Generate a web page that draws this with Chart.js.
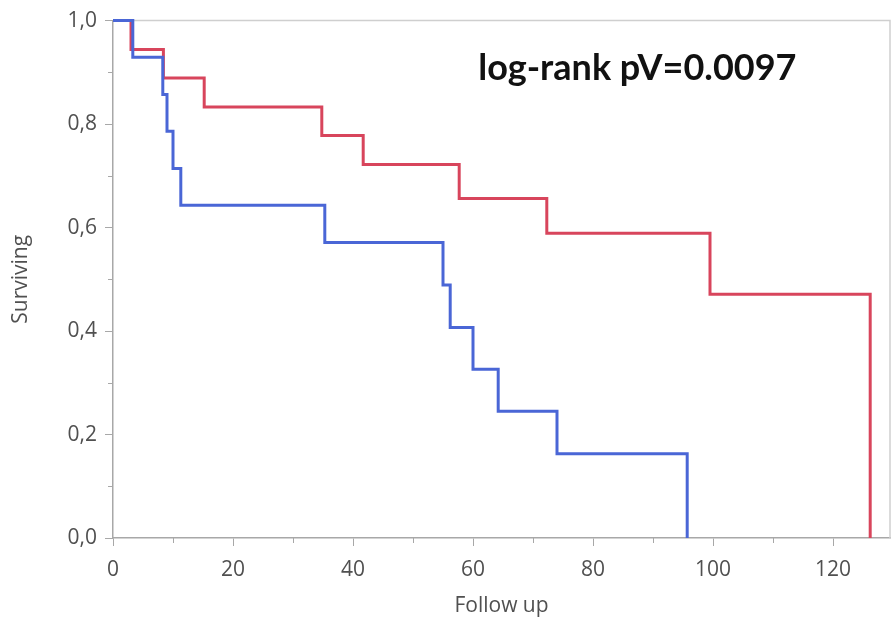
<!DOCTYPE html>
<html>
<head>
<meta charset="utf-8">
<script src="https://cdn.jsdelivr.net/npm/chart.js@4"></script>
<style>
    html, body { margin: 0; padding: 0; background: #ffffff; }
    #wrap { width: 892px; height: 624px; }
</style>
</head>
<body>
<div id="wrap"><canvas id="kmChart" width="892" height="624"></canvas></div>
<script>
// Kaplan-Meier steps
const redTimes = [0, 3.0, 8.4, 15.2, 34.8, 41.7, 57.7, 72.3, 99.5, 126.2];
const redSurv = [1.0, 0.944, 0.889, 0.833, 0.778, 0.722, 0.656, 0.589, 0.471, 0.0];
const blueTimes = [0, 3.3, 8.3, 9.0, 10.0, 11.3, 35.3, 55.0, 56.2, 60.0, 64.2, 74.0, 95.7];
const blueSurv = [1.0, 0.929, 0.857, 0.786, 0.714, 0.643, 0.571, 0.489, 0.407, 0.326, 0.245, 0.163, 0.0];

const xTicks = [0, 20, 40, 60, 80, 100, 120];
const xMinorTicks = [10, 30, 50, 70, 90, 110];
const yTicks = [0, 0.2, 0.4, 0.6, 0.8, 1.0];
const yMinorTicks = [0.1, 0.3, 0.5, 0.7, 0.9];
const pValueText = 'log-rank pV=0.0097';

const toPoints = (xs, ys) => xs.map((x, i) => ({ x: x, y: ys[i] }));

const tickFont = { family: '"Open Sans", "Noto Sans", sans-serif', size: 21 };
const axisGray = '#a8a8a8';

// frame, minor ticks and the p-value note
const extrasPlugin = {
    id: 'extras',
    beforeDatasetsDraw(chart) {
        const ctx = chart.ctx;
        const area = chart.chartArea;
        ctx.save();
        ctx.strokeStyle = '#cfcfcf';
        ctx.lineWidth = 1.5;
        ctx.beginPath();
        ctx.moveTo(area.left, area.top);
        ctx.lineTo(area.right, area.top);
        ctx.lineTo(area.right, area.bottom);
        ctx.stroke();
        ctx.restore();
    },
    afterDraw(chart) {
        const ctx = chart.ctx;
        const area = chart.chartArea;
        const xs = chart.scales.x;
        const ys = chart.scales.y;
        ctx.save();
        ctx.strokeStyle = axisGray;
        ctx.lineWidth = 1;
        ctx.beginPath();
        xMinorTicks.forEach(v => {
            const px = Math.round(xs.getPixelForValue(v)) + 0.5;
            ctx.moveTo(px, area.bottom);
            ctx.lineTo(px, area.bottom + 5);
        });
        yMinorTicks.forEach(v => {
            const py = Math.round(ys.getPixelForValue(v)) + 0.5;
            ctx.moveTo(area.left - 5, py);
            ctx.lineTo(area.left, py);
        });
        ctx.stroke();

        ctx.fillStyle = '#111111';
        ctx.font = 'bold 36px Lato, "Open Sans", sans-serif';
        ctx.textBaseline = 'alphabetic';
        ctx.textAlign = 'left';
        ctx.fillText(pValueText, area.left + (area.right - area.left) * 0.47, area.top + 59);
        ctx.restore();
    }
};

const kmChart = new Chart(document.getElementById('kmChart'), {
    type: 'line',
    data: {
        datasets: [{
            label: 'Group B',
            data: toPoints(blueTimes, blueSurv),
            borderColor: '#4a66d6',
            borderWidth: 3,
            stepped: 'before',
            pointRadius: 0,
            fill: false,
            clip: 3
        }, {
            label: 'Group A',
            data: toPoints(redTimes, redSurv),
            borderColor: '#d8455c',
            borderWidth: 3,
            stepped: 'before',
            pointRadius: 0,
            fill: false,
            clip: 3
        }]
    },
    options: {
        responsive: false,
        animation: false,
        layout: { padding: { top: 14, right: 2, left: 0, bottom: 0 } },
        plugins: {
            legend: { display: false },
            tooltip: { enabled: false }
        },
        scales: {
            x: {
                type: 'linear',
                min: 0,
                max: 129.5,
                afterFit(scale) { scale.height = 86; },
                afterBuildTicks(scale) { scale.ticks = xTicks.map(v => ({ value: v })); },
                grid: { drawOnChartArea: false, tickLength: 8, color: axisGray, tickColor: axisGray },
                border: { color: axisGray, width: 1.5 },
                ticks: { font: tickFont, color: '#505050', padding: 11, maxRotation: 0 },
                title: {
                    display: true,
                    text: 'Follow up',
                    font: tickFont,
                    color: '#505050',
                    padding: { top: 0, bottom: 5 }
                }
            },
            y: {
                min: 0,
                max: 1,
                afterFit(scale) { scale.width = 113; },
                afterBuildTicks(scale) { scale.ticks = yTicks.map(v => ({ value: v })); },
                grid: { drawOnChartArea: false, tickLength: 8, color: axisGray, tickColor: axisGray },
                border: { color: axisGray, width: 1.5 },
                ticks: {
                    font: tickFont,
                    color: '#505050',
                    padding: 8,
                    callback: v => v.toFixed(1).replace('.', ',')
                },
                title: {
                    display: true,
                    text: 'Surviving',
                    font: tickFont,
                    color: '#505050',
                    padding: { top: 8, bottom: 0 }
                }
            }
        }
    },
    plugins: [extrasPlugin]
});
</script>
</body>
</html>
